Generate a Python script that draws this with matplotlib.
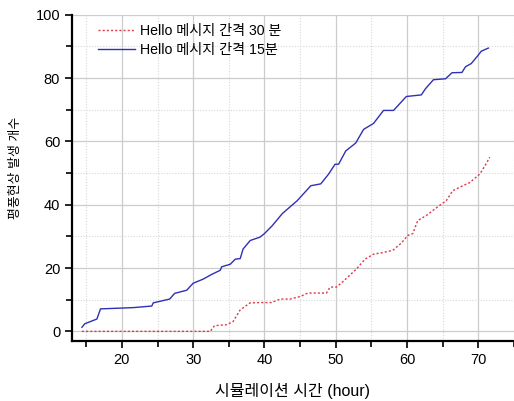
import matplotlib
matplotlib.use("Agg")
import matplotlib.pyplot as plt
from matplotlib.ticker import MultipleLocator

FAM = ['Liberation Sans', 'Noto Sans CJK KR', 'DejaVu Sans']
plt.rcParams['font.family'] = FAM

# 15-minute interval series (blue)
x15 = [14.4, 14.8, 16.5, 17.0, 21.6, 24.2, 24.4, 26.7, 27.4, 29.1, 30.0, 31.4, 32.6, 33.8,
       34.0, 35.2, 35.9, 36.6, 37.0, 38.0, 39.4, 40.0, 41.1, 42.5, 44.6, 46.5, 47.9, 49.0,
       49.9, 50.4, 51.4, 52.8, 53.9, 55.3, 56.7, 58.1, 59.9, 62.0, 62.6, 63.7, 65.4, 66.3,
       67.7, 68.2, 69.0, 70.0, 70.4, 71.4]
y15 = [1.3, 2.4, 3.9, 7.1, 7.5, 8.0, 9.0, 10.2, 12.0, 13.0, 15.2, 16.5, 18.0, 19.3,
       20.4, 21.2, 22.8, 23.0, 26.0, 28.7, 29.8, 30.9, 33.4, 37.2, 41.3, 46.0, 46.6, 49.7,
       52.8, 52.8, 57.0, 59.5, 63.8, 65.7, 69.8, 69.8, 74.2, 74.7, 76.7, 79.5, 79.8, 81.7,
       81.8, 83.6, 84.6, 87.3, 88.5, 89.5]

# 30-minute interval series (red)
x30 = [14.4, 32.4, 33.0, 34.7, 35.6, 36.6, 38.0, 39.4, 41.0, 42.2, 43.6, 45.0, 46.1, 48.7,
       49.2, 50.1, 51.0, 52.0, 52.9, 54.1, 55.3, 56.4, 58.0, 59.2, 60.1, 60.8, 61.5, 62.7,
       64.1, 65.5, 66.4, 67.8, 68.8, 70.2, 70.9, 71.6]
y30 = [0.0, 0.0, 1.8, 2.1, 3.1, 6.8, 9.0, 9.1, 9.1, 10.2, 10.2, 11.0, 12.1, 12.1,
       14.0, 14.0, 15.7, 17.8, 19.7, 22.8, 24.4, 24.8, 25.6, 27.9, 30.3, 30.9, 35.0, 36.6,
       39.0, 41.3, 44.4, 46.0, 47.0, 49.7, 52.2, 55.0]

labels = ['Hello 메시지 간격 30 분', 'Hello 메시지 간격 15분']
xlabel = '시뮬레이션 시간 (hour)'
ylabel = '평풍현상 발생 개수'

fig = plt.figure(figsize=(5.14, 4.01), dpi=100)
ax = fig.add_axes([0.140, 0.150, 0.860, 0.813])

ax.plot(x30, y30, color='#e03848', linestyle=(0, (1.5, 1.5)), linewidth=1.0, label=labels[0], zorder=3)
ax.plot(x15, y15, color='#3030b4', linestyle='-', linewidth=1.0, label=labels[1], zorder=4)

ax.set_xlim(13, 75)
ax.set_ylim(-3, 100)
ax.xaxis.set_major_locator(MultipleLocator(10))
ax.xaxis.set_minor_locator(MultipleLocator(5))
ax.yaxis.set_major_locator(MultipleLocator(20))
ax.yaxis.set_minor_locator(MultipleLocator(10))
ax.set_xticks([20, 30, 40, 50, 60, 70])

ax.grid(which='major', color='#cccccc', linestyle='-', linewidth=0.9, zorder=0)
ax.grid(which='minor', color='#d8d8d8', linestyle=(0, (1, 1.5)), linewidth=0.8, zorder=0)
ax.set_axisbelow(True)

for s in ['top', 'right']:
    ax.spines[s].set_visible(False)
for s in ['left', 'bottom']:
    ax.spines[s].set_linewidth(1.6)
ax.tick_params(which='both', direction='out', length=5, width=1.2, labelsize=10.5)
ax.tick_params(which='minor', length=4)

ax.set_xlabel(xlabel, fontsize=11.5, labelpad=12)
ax.set_ylabel(ylabel, fontsize=9.3, labelpad=10)
ax.yaxis.label.set_y(0.53)

leg = ax.legend(loc='upper left', bbox_to_anchor=(0.03, 1.01), frameon=False, fontsize=10.2,
                handlelength=2.6, handletextpad=0.4, labelspacing=0.3)

fig.savefig('out.png', dpi=100)
